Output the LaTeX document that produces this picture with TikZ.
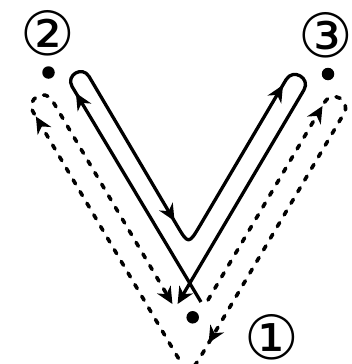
\documentclass[tikz,border=0pt]{standalone}
\usepackage{fontspec}
\newfontfamily\circfont{DejaVu Sans}
\usetikzlibrary{calc}
\tikzset{
  solidline/.style={line width=3.3pt, line cap=butt, line join=round},
  dashline/.style={line width=3.6pt, line cap=round, dash pattern=on 4.5pt off 9pt},
  ahead/.pic={\fill (0pt,0pt) -- (-17pt,8pt) -- (-11.5pt,0pt) -- (-17pt,-8pt) -- cycle;},
  blackdot/.style={circle, fill=black, inner sep=0pt, minimum size=12.5pt},
  numlabel/.style={inner sep=0pt, font=\circfont\fontsize{61}{61}\selectfont}
}
\begin{document}
\begin{tikzpicture}[x=1pt, y=-1pt]
\useasboundingbox (0,0) rectangle (352,364);
% labels and dots
\node[numlabel] (n2) at (48.3,33.5) {②};
\node[numlabel] (n3) at (325.5,35) {③};
\node[numlabel] (n1) at (271.5,337.5) {①};
\node[blackdot] (d2) at (48.5,72.5) {};
\node[blackdot] (d3) at (328,74) {};
\node[blackdot] (d1) at (192.7,317.3) {};
% solid path coordinates
\coordinate (s0) at (201,302);
\coordinate (sAL) at (72.1,86.6);
\coordinate (sBL) at (89.1,76.6);
\coordinate (sP1) at (176.3,224.3);
\coordinate (sV) at (188.5,245);
\coordinate (sP2) at (200.7,224.3);
\coordinate (sAR) at (286.1,79.6);
\coordinate (sBR) at (303.9,90.0);
\coordinate (s9) at (182.1,296.2);
\draw[solidline] (s0) -- (sAL) .. controls (65.4,75.2) and (82.4,65.2) .. (sBL)
  -- (sP1) .. controls (sV) .. (sP2) -- (sAR)
  .. controls (293.1,67.8) and (310.9,78.2) .. (sBR) -- (s9);
% dashed path coordinates
\coordinate (dd0) at (208,300);
\coordinate (dAR) at (324.7,102.2);
\coordinate (dBR) at (343.9,113.6);
\coordinate (dQ1) at (205.3,348.7);
\coordinate (dV) at (189,376.3);
\coordinate (dQ2) at (172.7,348.7);
\coordinate (dAL) at (33.1,111.9);
\coordinate (dBL) at (52.3,100.5);
\coordinate (d9) at (167.9,296.2);
\draw[dashline] (dd0) -- (dAR) .. controls (332.3,89.4) and (351.5,100.8) .. (dBR)
  -- (dQ1) .. controls (dV) .. (dQ2) -- (dAL)
  .. controls (25.5,99.1) and (44.7,87.7) .. (dBL) -- (d9);
% arrowheads on solid path
\pic[rotate=120.5] at (75.9,93) {ahead};
\pic[rotate=-59.5] at (174.5,221) {ahead};
\pic[rotate=59.5] at (283,85) {ahead};
\pic[rotate=-120.5] at (177.6,304) {ahead};
% arrowheads on dashed path
\pic[rotate=59.5] at (322.5,106) {ahead};
\pic[rotate=-120.5] at (208.6,343) {ahead};
\pic[rotate=120.5] at (35.9,116.5) {ahead};
\pic[rotate=-59.5] at (172.4,304) {ahead};
\end{tikzpicture}
\end{document}
